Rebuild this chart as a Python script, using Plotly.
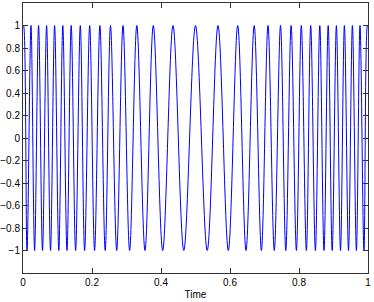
import plotly.graph_objects as go

# Times of the crests (value +1)
peak_times = [0.0017, 0.0232, 0.0452, 0.0684, 0.0916, 0.1154, 0.1397, 0.1661,
              0.1933, 0.2229, 0.2536, 0.2899, 0.3299, 0.3777, 0.4348, 0.5000,
              0.5652, 0.6223, 0.6701, 0.7101, 0.7464, 0.7771, 0.8067, 0.8339,
              0.8603, 0.8846, 0.9084, 0.9316, 0.9548, 0.9768, 0.9983]
peak_value = 1.0

# Times of the troughs (value -1)
trough_times = [0.0116, 0.0336, 0.0565, 0.0797, 0.1038, 0.1275, 0.1525, 0.1786,
                0.2075, 0.2383, 0.2716, 0.3090, 0.3536, 0.4049, 0.4661,
                0.5339, 0.5951, 0.6464, 0.6910, 0.7284, 0.7617, 0.7925, 0.8214,
                0.8475, 0.8725, 0.8962, 0.9203, 0.9435, 0.9664, 0.9884]
trough_value = -1.0

# Signal value at the two ends of the time axis
edge_times = [0.0, 1.0]
edge_values = [0.99, 0.99]

x_ticks = [0, 0.2, 0.4, 0.6, 0.8, 1]
y_ticks = [-1, -0.8, -0.6, -0.4, -0.2, 0, 0.2, 0.4, 0.6, 0.8, 1]

pairs = ([(t, peak_value) for t in peak_times]
         + [(t, trough_value) for t in trough_times]
         + list(zip(edge_times, edge_values)))
pairs.sort()
xs = [p[0] for p in pairs]
ys = [p[1] for p in pairs]

fig = go.Figure()
fig.add_trace(go.Scatter(x=xs, y=ys, mode="lines",
                         line=dict(color="#0000ff", width=1, shape="spline", smoothing=1),
                         hoverinfo="skip", showlegend=False))

axis_common = dict(showgrid=False, zeroline=False, showline=True, linecolor="#333",
                   linewidth=1, mirror="ticks", ticks="inside", ticklen=5,
                   tickcolor="#333", tickfont=dict(size=10, color="black"))

fig.update_layout(
    width=374, height=302,
    margin=dict(l=23, r=6, t=3, b=29),
    paper_bgcolor="white", plot_bgcolor="white",
    font=dict(family="Liberation Sans, Arial, sans-serif", size=10, color="black"),
    xaxis=dict(range=[0, 1], tickvals=x_ticks, title=dict(text="Time", standoff=3,
               font=dict(size=10)), automargin=False, **axis_common),
    yaxis=dict(range=[-1.2, 1.2], tickvals=y_ticks, automargin=False, **axis_common),
)

fig.write_html("out.html", config={"displayModeBar": False},
               post_script="document.body.style.margin='0px';document.body.style.padding='0px';")
